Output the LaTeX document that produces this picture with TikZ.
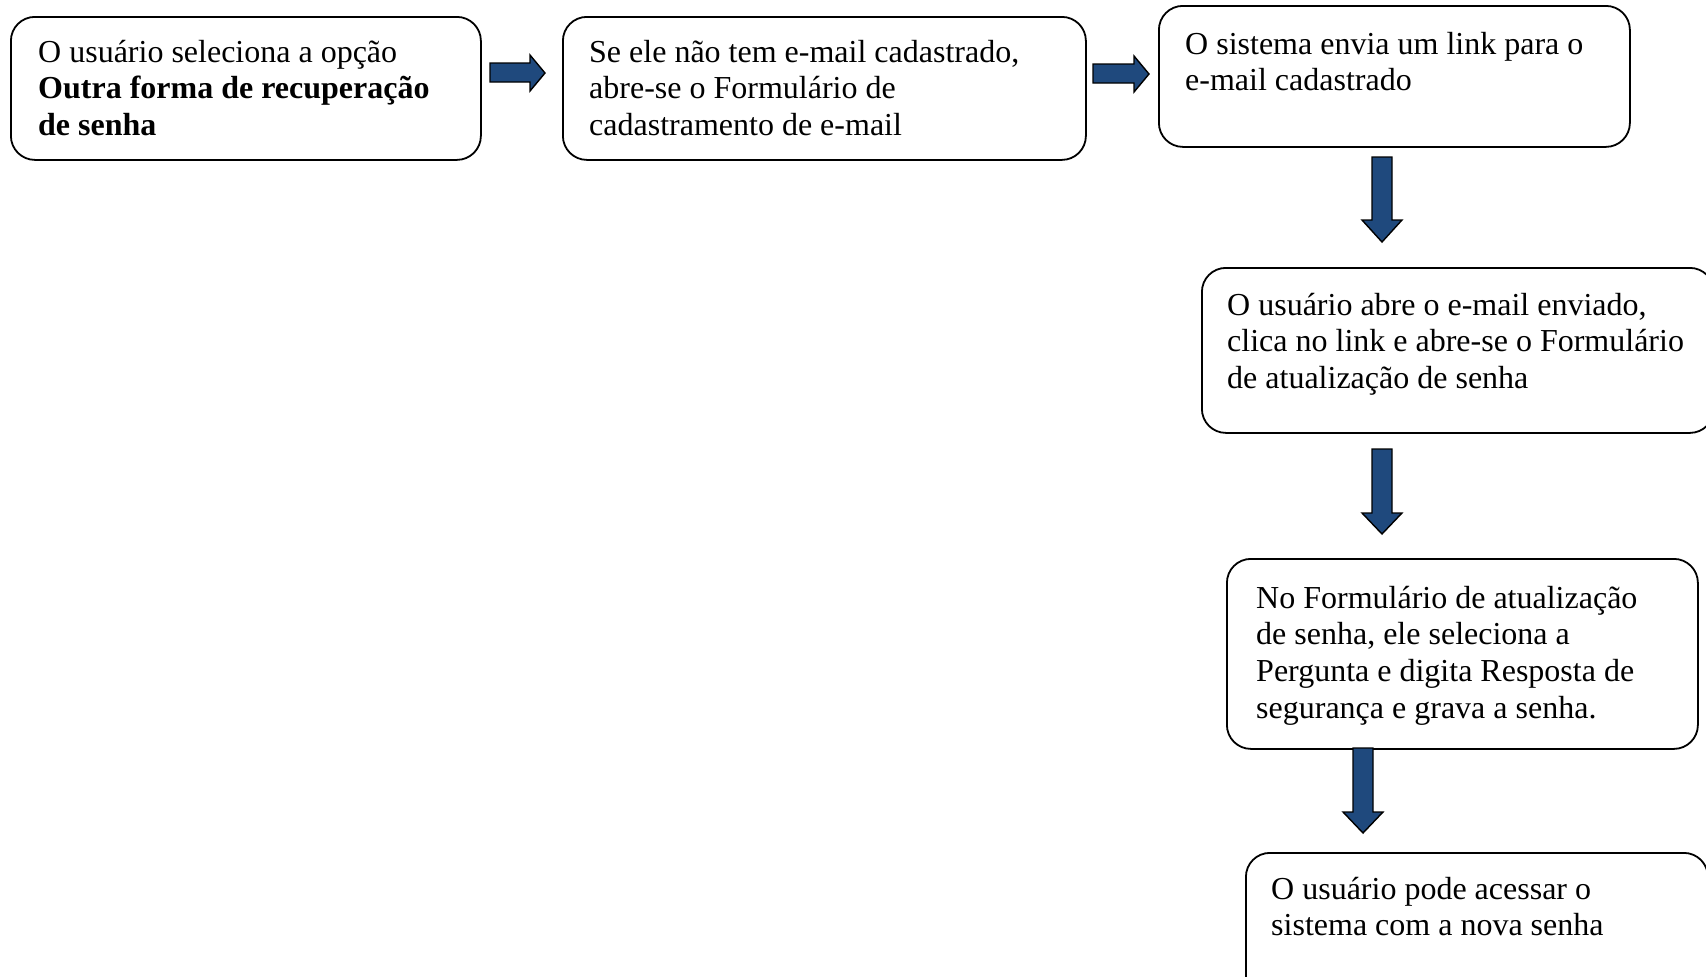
\documentclass[tikz,border=0pt]{standalone}
\usepackage{fontspec}
\setmainfont{Liberation Serif}
\definecolor{arrowblue}{RGB}{31,73,125}
\tikzset{
  box/.style={draw=black, line width=1.8pt, rounded corners=24pt, fill=white, inner sep=0pt, anchor=north west},
  txt/.style={align=left, inner sep=0pt, anchor=base west, font=\fontsize{32}{36.8}\selectfont},
  blockarrow/.style={draw=black, line width=1.4pt, fill=arrowblue, line join=miter}
}
\begin{document}
\begin{tikzpicture}[x=1pt,y=-1pt]
\useasboundingbox (0,0) rectangle (1706,977);
% boxes
\node[box, minimum width=470pt, minimum height=143pt] (b1) at (10,16) {};
\node[box, minimum width=523pt, minimum height=143pt] (b2) at (562,16) {};
\node[box, minimum width=471pt, minimum height=141pt] (b3) at (1158,5) {};
\node[box, minimum width=512pt, minimum height=165pt] (b4) at (1201,267) {};
\node[box, minimum width=471pt, minimum height=190pt] (b5) at (1226,558) {};
\node[box, minimum width=462pt, minimum height=150pt] (b6) at (1245,852) {};
% texts (anchor = baseline of the last line)
\node[txt] (t1) at (38,135.6) {O usuário seleciona a opção\\\textbf{Outra forma de recuperação}\\\textbf{de senha}};
\node[txt] (t2) at (589,135.6) {Se ele não tem e-mail cadastrado,\\abre-se o Formulário de\\cadastramento de e-mail};
\node[txt] (t3) at (1185,90.8) {O sistema envia um link para o\\e-mail cadastrado};
\node[txt] (t4) at (1227,388.6) {O usuário abre o e-mail enviado,\\clica no link e abre-se o Formulário\\de atualização de senha};
\node[txt] (t5) at (1256,718.4) {No Formulário de atualização\\de senha, ele seleciona a\\Pergunta e digita Resposta de\\segurança e grava a senha.};
\node[txt] (t6) at (1271,935.8) {O usuário pode acessar o\\sistema com a nova senha};
% block arrows
\draw[blockarrow] (490,63) -- (530,63) -- (530,55) -- (545,73) -- (530,91) -- (530,82) -- (490,82) -- cycle;
\draw[blockarrow] (1093,64) -- (1134,64) -- (1134,56) -- (1149,74) -- (1134,92) -- (1134,83) -- (1093,83) -- cycle;
\draw[blockarrow] (1372,157) -- (1392,157) -- (1392,220) -- (1402,220) -- (1382,242) -- (1362,220) -- (1372,220) -- cycle;
\draw[blockarrow] (1372,449) -- (1392,449) -- (1392,513) -- (1402,513) -- (1382,534) -- (1362,513) -- (1372,513) -- cycle;
\draw[blockarrow] (1353,748) -- (1373,748) -- (1373,812) -- (1383,812) -- (1363,833) -- (1343,812) -- (1353,812) -- cycle;
\end{tikzpicture}
\end{document}
